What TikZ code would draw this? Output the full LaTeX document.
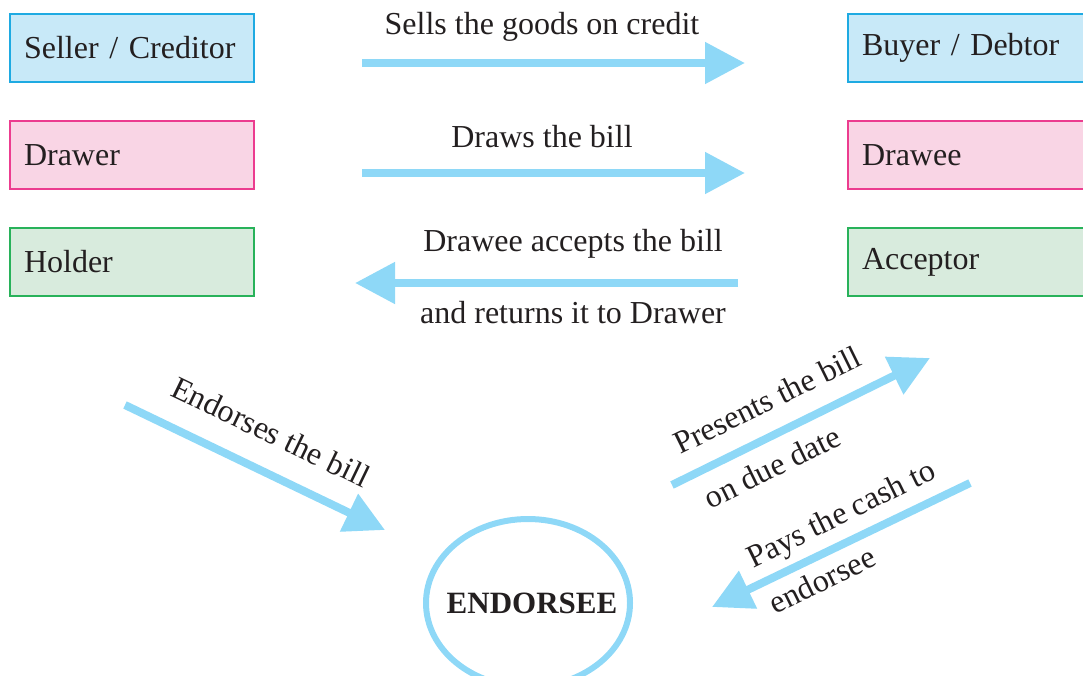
\documentclass[tikz,border=0pt]{standalone}
\usepackage{fontspec}
\setmainfont{Liberation Serif}
\usetikzlibrary{arrows.meta}

\definecolor{flowblue}{RGB}{142,216,247}
\definecolor{bluefill}{RGB}{200,233,248}
\definecolor{blueline}{RGB}{30,170,226}
\definecolor{pinkfill}{RGB}{249,213,229}
\definecolor{pinkline}{RGB}{236,60,143}
\definecolor{greenfill}{RGB}{216,235,221}
\definecolor{greenline}{RGB}{40,178,90}
\definecolor{inktext}{RGB}{35,31,32}

\tikzset{
  party/.style={draw, line width=1.5pt, minimum height=68pt, text width=216pt,
    inner xsep=14pt, align=left, font=\fontsize{32}{36}\selectfont, text=inktext},
  flow/.style={draw=flowblue, line width=8pt,
    -{Triangle[length=40pt,width=40pt]}},
  flowtext/.style={font=\fontsize{32}{36}\selectfont, text=inktext}
}

\begin{document}
\begin{tikzpicture}[x=1pt, y=-1pt]
  \useasboundingbox (0,0) rectangle (1083,675);

  \node[party, fill=bluefill, draw=blueline] (seller) at (132,48) {Seller / Creditor};
  \node[party, fill=pinkfill, draw=pinkline] (drawer) at (132,155) {Drawer};
  \node[party, fill=greenfill, draw=greenline] (holder) at (132,262) {Holder};

  \node[party, fill=bluefill, draw=blueline] (buyer) at (970,48) {Buyer / Debtor};
  \node[party, fill=pinkfill, draw=pinkline] (drawee) at (970,155) {Drawee};
  \node[party, fill=greenfill, draw=greenline] (acceptor) at (970,262) {Acceptor};

  % endorsee ring
  \draw[flowblue, line width=6pt] (528,603) ellipse [x radius=102, y radius=84];
  \node[font=\fontsize{31}{34}\selectfont\bfseries, text=inktext] (endorsee) at (532,603) {ENDORSEE};

  \coordinate (sellA) at (362,63);
  \coordinate (sellB) at (745,63);
  \coordinate (drawA) at (362,173);
  \coordinate (drawB) at (745,173);
  \coordinate (accA) at (738,283);
  \coordinate (accB) at (355,283);
  \coordinate (endA) at (125,405);
  \coordinate (endB) at (385,530);
  \coordinate (preA) at (672,485);
  \coordinate (preB) at (930,358);
  \coordinate (payA) at (970,483);
  \coordinate (payB) at (712,607);

  \draw[flow] (sellA) -- (sellB);
  \draw[flow] (drawA) -- (drawB);
  \draw[flow] (accA) -- (accB);
  \draw[flow] (endA) -- (endB);
  \draw[flow] (preA) -- (preB);
  \draw[flow] (payA) -- (payB);

  \node[flowtext] (sells) at (542,27) {Sells the goods on credit};
  \node[flowtext] (draws) at (542,137) {Draws the bill};
  \node[flowtext] (accepts) at (573,244) {Drawee accepts the bill};
  \node[flowtext] (returns) at (573,313) {and returns it to Drawer};
  \node[flowtext, rotate=-25.7] (endorses) at (271,432) {Endorses the bill};
  \node[flowtext, rotate=26.2] (presents) at (767,400) {Presents the bill};
  \node[flowtext, rotate=26.2] (duedate) at (772,467) {on due date};
  \node[flowtext, rotate=26.2] (pays) at (842,516) {Pays the cash to};
  \node[flowtext, rotate=26.2] (cashto) at (822,580) {endorsee};

\end{tikzpicture}
\end{document}
